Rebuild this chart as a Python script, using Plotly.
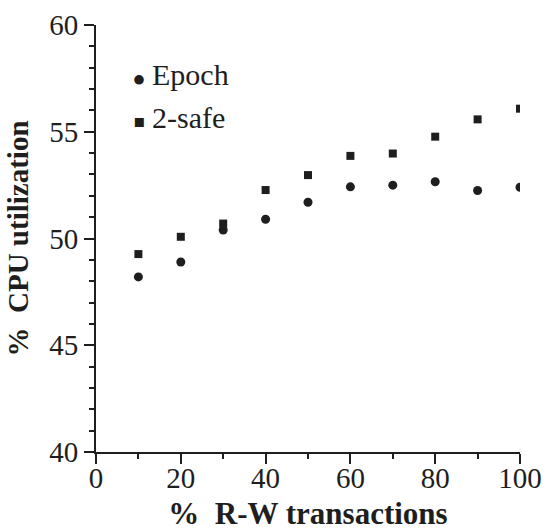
import plotly.graph_objects as go

rw_pct = [10, 20, 30, 40, 50, 60, 70, 80, 90, 100]
epoch = [48.2, 48.9, 50.4, 50.9, 51.7, 52.42, 52.5, 52.66, 52.25, 52.4]
two_safe = [49.27, 50.08, 50.7, 52.27, 52.97, 53.87, 53.98, 54.77, 55.58, 56.08]
series_names = ["Epoch", "2-safe"]

FONT = "Liberation Serif, Times New Roman, serif"
INK = "#1e1e1e"

fig = go.Figure()
fig.add_trace(go.Scatter(x=rw_pct, y=epoch, mode="markers", name=series_names[0],
                         marker=dict(symbol="circle", size=9, color=INK)))
fig.add_trace(go.Scatter(x=rw_pct, y=two_safe, mode="markers", name=series_names[1],
                         marker=dict(symbol="square", size=8, color=INK)))

fig.update_layout(
    width=547, height=531,
    margin=dict(l=96, r=27, t=25, b=79),
    paper_bgcolor="white", plot_bgcolor="white",
    font=dict(family=FONT, size=29, color=INK),
    showlegend=False,
)
# legend drawn as text labels (symbol + name)
legend_rows = [(series_names[0], "•", FONT, 40, 0.871, 0.8847),
               (series_names[1], "▪", "DejaVu Sans", 18, 0.7768, 0.784)]
for name, glyph, gfont, gsize, gy, ty in legend_rows:
    fig.add_annotation(xref="paper", yref="paper", x=(138.5 - 96) / 424, y=gy,
                       xanchor="center", yanchor="middle", showarrow=False,
                       text=glyph, font=dict(size=gsize, family=gfont, color=INK))
    fig.add_annotation(xref="paper", yref="paper", x=(150 - 96) / 424, y=ty,
                       xanchor="left", yanchor="middle", showarrow=False,
                       text=name, font=dict(size=30, family=FONT, color=INK))

fig.update_xaxes(
    range=[0, 100], tickmode="linear", tick0=0, dtick=20, automargin=False,
    ticks="outside", ticklen=10, tickwidth=2, tickcolor=INK, ticklabelstandoff=-11,
    minor=dict(dtick=10, ticks="outside", ticklen=5, tickwidth=2, tickcolor=INK),
    showline=True, linecolor=INK, linewidth=2, showgrid=False, zeroline=False,
    tickfont=dict(size=29, family=FONT),
    title=dict(text="<b>%  R-W transactions</b>", font=dict(size=31, family=FONT), standoff=18),
)
fig.update_yaxes(
    range=[40, 60], tickmode="linear", tick0=40, dtick=5, automargin=False,
    ticks="outside", ticklen=10, tickwidth=2, tickcolor=INK,
    minor=dict(dtick=1, ticks="outside", ticklen=5, tickwidth=2, tickcolor=INK),
    showline=True, linecolor=INK, linewidth=2, showgrid=False, zeroline=False,
    tickfont=dict(size=29, family=FONT),
    title=dict(text="<b>%  CPU utilization</b>", font=dict(size=29, family=FONT), standoff=12),
)

fig.write_html("out.html")
